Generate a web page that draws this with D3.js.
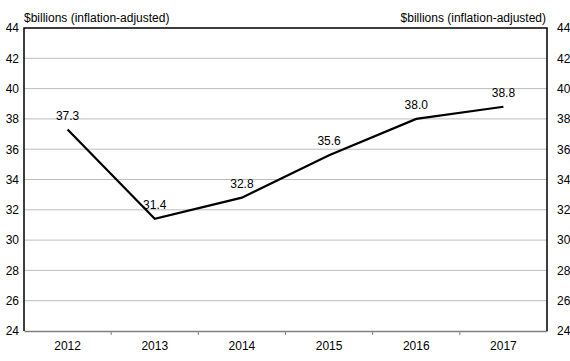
<!DOCTYPE html>
<html lang="en">
<head>
    <meta charset="UTF-8">
    <title>$billions (inflation-adjusted)</title>
    <script src="https://d3js.org/d3.v7.min.js"></script>
    <style>
        body { margin: 0; background: white; font-family: "Liberation Sans", Arial, sans-serif; }
        svg { display: block; }
        .tick text { font-size: 12px; fill: #000; }
    </style>
</head>
<body>
    <svg id="chart"></svg>

    <script>
        const years = ["2012", "2013", "2014", "2015", "2016", "2017"];
        const values = [37.3, 31.4, 32.8, 35.6, 38.0, 38.8];
        const yTicks = [24, 26, 28, 30, 32, 34, 36, 38, 40, 42, 44];
        const unitLabel = "$billions (inflation-adjusted)";

        const width = 570, height = 361;
        const margin = { top: 28, right: 23, bottom: 30, left: 24 };
        const svg = d3.select("#chart").attr("width", width).attr("height", height);

        const x = d3.scaleBand().domain(years).range([margin.left, width - margin.right]);
        const y = d3.scaleLinear().domain([24, 44]).range([height - margin.bottom, margin.top]);

        // gridlines
        svg.append("g")
            .selectAll("line")
            .data(yTicks.filter(d => d > 24 && d < 44))
            .enter().append("line")
            .attr("x1", margin.left).attr("x2", width - margin.right)
            .attr("y1", d => y(d)).attr("y2", d => y(d))
            .attr("stroke", "#bdbdbd").attr("stroke-width", 1);

        // bottom axis with ticks between categories
        const xAxis = svg.append("g")
            .attr("transform", `translate(0,${height - margin.bottom})`)
            .call(d3.axisBottom(x).tickSize(0).tickPadding(10));
        xAxis.select(".domain").attr("stroke", "#808080").attr("stroke-width", 1.5);
        xAxis.selectAll(".tick text").attr("font-family", "Liberation Sans, Arial, sans-serif");

        svg.append("g")
            .selectAll("line")
            .data(years.slice(1))
            .enter().append("line")
            .attr("x1", d => x(d)).attr("x2", d => x(d))
            .attr("y1", height - margin.bottom).attr("y2", height - margin.bottom + 4)
            .attr("stroke", "#808080");

        // left & right axes
        const yLeft = svg.append("g")
            .attr("transform", `translate(${margin.left},0)`)
            .call(d3.axisLeft(y).tickValues(yTicks).tickSize(0).tickPadding(5));
        yLeft.select(".domain").remove();
        yLeft.selectAll(".tick text").attr("font-family", "Liberation Sans, Arial, sans-serif");

        const yRight = svg.append("g")
            .attr("transform", `translate(${width - margin.right},0)`)
            .call(d3.axisRight(y).tickValues(yTicks).tickSize(0).tickPadding(10));
        yRight.select(".domain").remove();
        yRight.selectAll(".tick text").attr("font-family", "Liberation Sans, Arial, sans-serif");

        // frame: top, left, right in black
        svg.append("path")
            .attr("d", `M${margin.left},${height - margin.bottom}V${margin.top}H${width - margin.right}V${height - margin.bottom}`)
            .attr("fill", "none").attr("stroke", "#000").attr("stroke-width", 1.5);

        // unit labels
        svg.append("text")
            .attr("x", margin.left).attr("y", 22)
            .attr("font-size", "12px").attr("fill", "#000")
            .text(unitLabel);
        svg.append("text")
            .attr("x", width - margin.right - 1).attr("y", 22)
            .attr("text-anchor", "end")
            .attr("font-size", "12px").attr("fill", "#000")
            .text(unitLabel);

        // line
        const line = d3.line()
            .x((d, i) => x(years[i]) + x.bandwidth() / 2)
            .y(d => y(d));

        svg.append("path")
            .datum(values)
            .attr("d", line)
            .attr("fill", "none")
            .attr("stroke", "#000")
            .attr("stroke-width", 2.2);

        // value labels
        svg.append("g")
            .selectAll("text")
            .data(values)
            .enter().append("text")
            .attr("x", (d, i) => x(years[i]) + x.bandwidth() / 2)
            .attr("y", d => y(d) - 10)
            .attr("text-anchor", "middle")
            .attr("font-size", "12px")
            .attr("fill", "#000")
            .text(d => d.toFixed(1));
    </script>
</body>
</html>
